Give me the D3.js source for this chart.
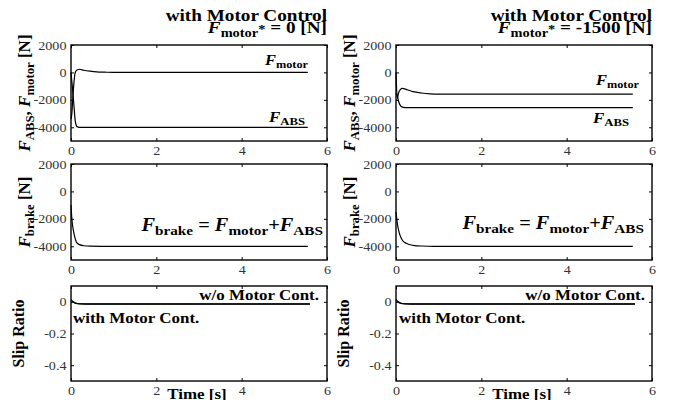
<!DOCTYPE html>
<html>
<head>
<meta charset="utf-8">
<script src="https://cdn.jsdelivr.net/npm/d3@7"></script>
<style>
body { margin: 0; background: #fff; }
text { font-family: "Liberation Serif", "Times New Roman", serif; white-space: pre; }
</style>
</head>
<body>
<svg id="fig" width="679" height="400"></svg>
<script>
// axis settings
var timeDomain = [0, 6];
var forceDomain = [-5000, 2000];
var slipDomain = [-0.5, 0.1];
var xTicks = [0, 2, 4, 6];
var forceTicks = [2000, 0, -2000, -4000];
var slipTicks = [0, -0.2, -0.4];
var setpoints = ['0', '-1500'];

// left column: F_motor* = 0
var tMotorA = [0, 0.02, 0.05, 0.1, 0.15, 0.2, 0.3, 0.45, 0.6, 0.8, 1.0, 5.55];
var motorA  = [-3400, -3000, -1500, 0, 200, 230, 160, 90, 40, 15, 0, 0];
var tAbsA   = [0, 0.03, 0.07, 0.1, 0.14, 0.2, 5.55];
var absA    = [0, -1000, -2450, -3550, -3950, -4000, -4000];
var tBrakeA = [0, 0.02, 0.05, 0.1, 0.13, 0.2, 0.3, 0.45, 0.7, 1.0, 5.55];
var brakeA  = [-1000, -2000, -2750, -3450, -3720, -3880, -3960, -3990, -4000, -4000, -4000];

// right column: F_motor* = -1500
var tMotorB = [0, 0.03, 0.06, 0.1, 0.15, 0.25, 0.4, 0.6, 0.8, 1.0, 5.55];
var motorB  = [0, -1900, -1500, -1250, -1170, -1250, -1400, -1500, -1560, -1580, -1580];
var tAbsB   = [0, 0.03, 0.06, 0.1, 0.15, 0.2, 0.3, 5.55];
var absB    = [-1500, -1700, -2100, -2400, -2530, -2560, -2570, -2570];
var tBrakeB = [0, 0.03, 0.07, 0.12, 0.16, 0.25, 0.4, 0.6, 0.9, 5.55];
var brakeB  = [-1500, -2300, -2950, -3400, -3600, -3800, -3930, -3980, -4000, -4000];

// slip ratio (both columns look alike)
var tSlip     = [0, 0.05, 0.1, 0.2, 0.35, 0.6, 5.6];
var slipWo    = [0.012, 0.0, -0.007, -0.012, -0.013, -0.013, -0.013];
var slipWith  = [0.012, -0.001, -0.008, -0.013, -0.014, -0.014, -0.014];

var svg = d3.select('#fig');
var SX = 1.13; // the source figure is a bit wider than tall in its lettering

var columns = [
  { x0: 71, x1: 327, motor: [tMotorA, motorA], abs: [tAbsA, absA], brake: [tBrakeA, brakeA],
    motorLbl: [237, 20], absLbl: [234, 77], brakeLbl: [252, 67], woLbl: [248, 14], withLbl: [2, 37] },
  { x0: 396, x1: 652, motor: [tMotorB, motorB], abs: [tAbsB, absB], brake: [tBrakeB, brakeB],
    motorLbl: [243, 40], absLbl: [233, 78], brakeLbl: [248, 65], woLbl: [249, 14], withLbl: [3, 37] }
];
var rows = [
  { y0: 45, y1: 141, domain: forceDomain, ticks: forceTicks },
  { y0: 164, y1: 260, domain: forceDomain, ticks: forceTicks },
  { y0: 286, y1: 381, domain: slipDomain, ticks: slipTicks }
];

function zip(t, v) { return t.map(function(d, i) { return [d, v[i]]; }); }

// bold text with italic / subscript / superscript pieces
function rich(g, x, y, parts, size, anchor, rotate) {
  var t = g.append('text')
    .attr('text-anchor', anchor || 'start')
    .attr('transform', 'translate(' + x + ',' + y + ')' + (rotate ? ' rotate(-90)' : ' scale(' + SX + ',1)'))
    .style('font-size', size + 'px')
    .style('font-weight', 'bold')
    .attr('fill', '#000');
  var shift = 0;
  parts.forEach(function(p) {
    var ns = p[1] === 'sub' ? size * 0.22 : p[1] === 'sup' ? -size * 0.02 : 0;
    var s = t.append('tspan').text(p[0]).attr('dy', ns - shift);
    shift = ns;
    if (p[1] === 'i') s.style('font-style', 'italic');
    if (p[1] === 'sub' || p[1] === 'sup') s.style('font-size', (size * 0.75) + 'px');
  });
  return t;
}

var line = function(x, y) {
  return d3.line().x(function(d) { return x(d[0]); }).y(function(d) { return y(d[1]); })
    .curve(d3.curveMonotoneX);
};

columns.forEach(function(c, ci) {
  var w = c.x1 - c.x0;
  var x = d3.scaleLinear().domain(timeDomain).range([0, w]);

  rows.forEach(function(r, ri) {
    var h = r.y1 - r.y0;
    var y = d3.scaleLinear().domain(r.domain).range([h, 0]);
    var g = svg.append('g').attr('transform', 'translate(' + c.x0 + ',' + r.y0 + ')');

    // axes, MATLAB-style inward ticks on all sides
    var fmt = function(d) { return String(d); };
    g.append('g').call(d3.axisLeft(y).tickValues(r.ticks).tickSize(-3).tickPadding(4).tickFormat(fmt));
    g.append('g').attr('transform', 'translate(0,' + h + ')')
      .call(d3.axisBottom(x).tickValues(xTicks).tickSize(-3).tickPadding(5).tickFormat(fmt));
    g.append('g').attr('transform', 'translate(' + w + ',0)')
      .call(d3.axisRight(y).tickValues(r.ticks).tickSize(-3).tickFormat(''));
    g.append('g').call(d3.axisTop(x).tickValues(xTicks).tickSize(-3).tickFormat(''));
    g.selectAll('.domain').remove();
    g.selectAll('.tick line').attr('stroke', '#000');
    g.selectAll('.tick text')
      .attr('fill', '#333')
      .attr('transform', 'scale(' + SX + ',1)')
      .style('font-size', '12.5px')
      .style('font-family', '"Liberation Serif", serif');

    g.append('rect').attr('width', w).attr('height', h)
      .attr('fill', 'none').attr('stroke', '#000').attr('stroke-width', 1.4);

    var lf = line(x, y);
    var draw = function(data) {
      g.append('path').datum(data).attr('d', lf)
        .attr('fill', 'none').attr('stroke', '#000').attr('stroke-width', 1.2);
    };

    if (ri === 0) {
      draw(zip(c.abs[0], c.abs[1]));
      draw(zip(c.motor[0], c.motor[1]));
      rich(g, c.motorLbl[0], c.motorLbl[1], [['F', 'i'], ['motor', 'sub']], 14.5, 'end');
      rich(g, c.absLbl[0], c.absLbl[1], [['F', 'i'], ['ABS', 'sub']], 15, 'end');
      rich(svg, c.x0 - 41, (r.y0 + r.y1) / 2,
        [['F', 'i'], ['ABS', 'sub'], [', ', ''], ['F', 'i'], ['motor', 'sub'], [' [N]', '']], 17, 'middle', true);
    } else if (ri === 1) {
      draw(zip(c.brake[0], c.brake[1]));
      rich(g, c.brakeLbl[0], c.brakeLbl[1],
        [['F', 'i'], ['brake', 'sub'], [' = ', ''], ['F', 'i'], ['motor', 'sub'], ['+', ''], ['F', 'i'], ['ABS', 'sub']], 18, 'end');
      rich(svg, c.x0 - 41, (r.y0 + r.y1) / 2, [['F', 'i'], ['brake', 'sub'], [' [N]', '']], 17, 'middle', true);
    } else {
      draw(zip(tSlip, slipWo));
      draw(zip(tSlip, slipWith));
      rich(g, c.woLbl[0], c.woLbl[1], [['w/o Motor Cont.', '']], 15, 'end');
      rich(g, c.withLbl[0], c.withLbl[1], [['with Motor Cont.', '']], 15, 'start');
      rich(svg, c.x0 - 47, (r.y0 + r.y1) / 2, [['Slip Ratio', '']], 16, 'middle', true);
      rich(svg, c.x0 + w / 2 - 2, 399, [['Time [s]', '']], 15, 'middle');
    }
  });

  // titles
  rich(svg, c.x1, 20.5, [['with Motor Control', '']], 17, 'end');
  rich(svg, c.x1, 33, [['F', 'i'], ['motor', 'sub'], ['*', 'sup'], [' = ' + setpoints[ci] + ' [N]', '']], 17, 'end');
});
</script>
</body>
</html>
